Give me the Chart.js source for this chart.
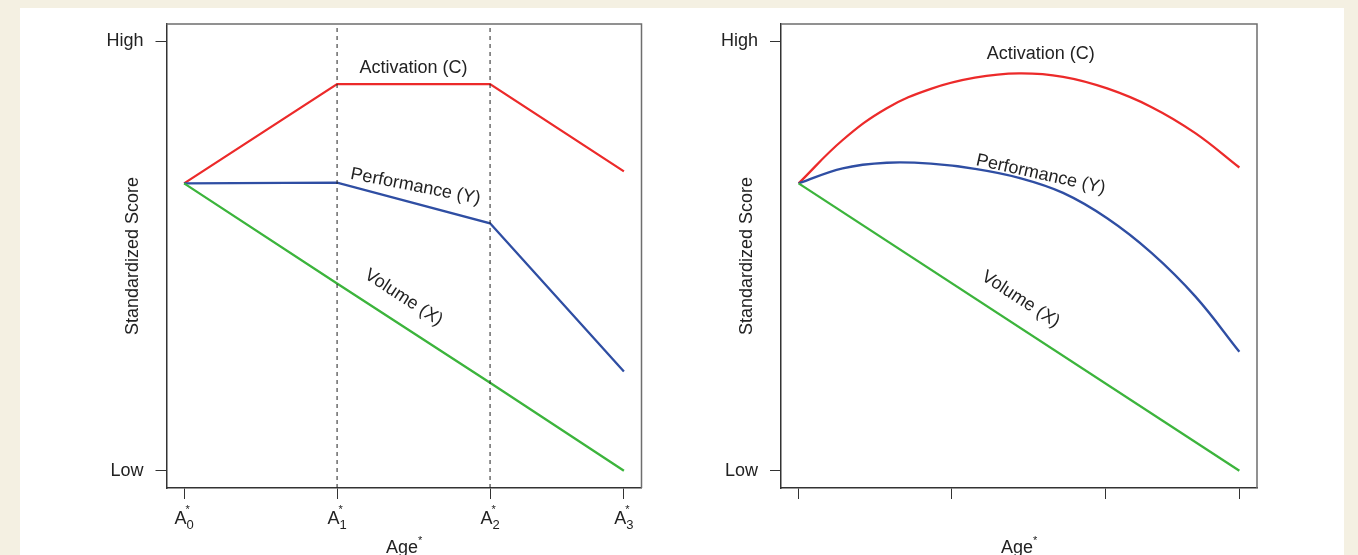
<!DOCTYPE html>
<html>
<head>
<meta charset="utf-8">
<script src="https://cdn.jsdelivr.net/npm/chart.js@4/dist/chart.umd.min.js"></script>
<style>
  body { margin: 0; background: #f4f0e2; width: 1358px; height: 555px; overflow: hidden; position: relative; }
  #panel { position: absolute; left: 20px; top: 8px; width: 1324px; height: 547px; background: #fff; }
  canvas { position: absolute; top: 1px; }
  #leftChart { left: 20px; }
  #rightChart { left: 690px; }
</style>
</head>
<body>
<div id="panel"></div>
<canvas id="leftChart" width="670" height="554"></canvas>
<canvas id="rightChart" width="654" height="554"></canvas>
<script>
// age positions (A0..A3) and the scores
const ageX = [0, 1, 2, 2.875];
const ageSub = ['0', '1', '2', '3'];
const scoreTicks = [0, 1];
const scoreLabels = ['Low', 'High'];

// left panel: piecewise lines
const activationStep = [0.669, 0.9, 0.9, 0.697];
const performanceStep = [0.669, 0.671, 0.576, 0.231];
const volumeStep = [0.669, 0.436, 0.205, 0];

// right panel: smooth curves, sampled evenly from A0 to A3
const curveX = [0, 0.2875, 0.575, 0.8625, 1.15, 1.4375, 1.725, 2.0125, 2.3, 2.5875, 2.875];
const activationCurve = [0.669, 0.770, 0.844, 0.889, 0.915, 0.925, 0.917, 0.890, 0.847, 0.786, 0.706];
const performanceCurve = [0.669, 0.704, 0.717, 0.715, 0.703, 0.682, 0.647, 0.588, 0.508, 0.406, 0.277];
const volumeCurveX = [0, 2.875];
const volumeCurve = [0.669, 0];

const RED = '#ec2a2a', BLUE = '#2f4ea3', GREEN = '#3cb43c';
const TEXT = '#222';
const FONT = '"Liberation Sans", Arial, sans-serif';

const leftLabels = [
  { text: 'Activation (C)', x: 1.50, y: 0.937, rot: 0 },
  { text: 'Performance (Y)', x: 1.513, y: 0.662, rot: 11 },
  { text: 'Volume (X)', x: 1.435, y: 0.403, rot: 33 }
];
const rightLabels = [
  { text: 'Activation (C)', x: 1.579, y: 0.970, rot: 0 },
  { text: 'Performance (Y)', x: 1.579, y: 0.690, rot: 12.5 },
  { text: 'Volume (X)', x: 1.448, y: 0.399, rot: 33 }
];

function pts(xs, ys) {
  return ys.map((v, i) => ({ x: xs[i], y: v }));
}

function lineSet(data, color, extra) {
  return Object.assign({
    data: data,
    borderColor: color,
    borderWidth: 2.3,
    pointRadius: 0,
    fill: false
  }, extra || {});
}

// draws box, annotations, x tick labels and axis titles
const decorPlugin = {
  id: 'decor',
  afterDraw(chart) {
    const ctx = chart.ctx;
    const a = chart.chartArea;
    const xs = chart.scales.x, ys = chart.scales.y;
    const o = chart.options.plugins.decor;
    ctx.save();

    // top and right frame
    ctx.strokeStyle = '#6e6e6e';
    ctx.lineWidth = 1.5;
    ctx.beginPath();
    ctx.moveTo(a.left, a.top);
    ctx.lineTo(a.right, a.top);
    ctx.lineTo(a.right, a.bottom);
    ctx.stroke();

    // curve labels
    ctx.fillStyle = TEXT;
    ctx.textAlign = 'center';
    ctx.textBaseline = 'middle';
    ctx.font = '18px ' + FONT;
    o.labels.forEach(l => {
      ctx.save();
      ctx.translate(xs.getPixelForValue(l.x), ys.getPixelForValue(l.y));
      ctx.rotate(l.rot * Math.PI / 180);
      ctx.fillText(l.text, 0, 0);
      ctx.restore();
    });

    // x tick labels A_i^*
    if (o.tickLabels) {
      ctx.textAlign = 'left';
      ctx.textBaseline = 'alphabetic';
      ageX.forEach((v, i) => {
        const px = xs.getPixelForValue(v);
        ctx.font = '18px ' + FONT;
        const wA = ctx.measureText('A').width;
        ctx.font = '13px ' + FONT;
        const wD = ctx.measureText(ageSub[i]).width;
        const start = px - (wA + wD) / 2;
        ctx.font = '18px ' + FONT;
        ctx.fillText('A', start, a.bottom + 36);
        ctx.font = '13px ' + FONT;
        ctx.fillText(ageSub[i], start + wA, a.bottom + 41);
        ctx.font = '11px ' + FONT;
        ctx.fillText('*', start + wA - 1, a.bottom + 25);
      });
    }

    // x title
    const cx = (a.left + a.right) / 2;
    ctx.font = '18px ' + FONT;
    ctx.textAlign = 'center';
    ctx.textBaseline = 'alphabetic';
    const wAge = ctx.measureText('Age').width;
    ctx.fillText('Age', cx - 2, a.bottom + 65);
    ctx.font = '11px ' + FONT;
    ctx.textAlign = 'left';
    ctx.fillText('*', cx - 2 + wAge / 2, a.bottom + 56);

    // y title
    ctx.save();
    ctx.translate(a.left - 33.5, (a.top + a.bottom) / 2);
    ctx.rotate(-Math.PI / 2);
    ctx.font = '18px ' + FONT;
    ctx.textAlign = 'center';
    ctx.textBaseline = 'middle';
    ctx.fillText('Standardized Score', 0, 0);
    ctx.restore();

    ctx.restore();
  }
};

function makeOptions(padRight, yWidth, labels, tickLabels) {
  return {
    responsive: false,
    animation: false,
    layout: { padding: { top: 23, right: padRight, bottom: 0, left: 0 } },
    plugins: {
      legend: { display: false },
      tooltip: { enabled: false },
      decor: { labels: labels, tickLabels: tickLabels }
    },
    scales: {
      x: {
        type: 'linear',
        min: -0.115,
        max: 2.99,
        afterBuildTicks: s => { s.ticks = ageX.map(v => ({ value: v })); },
        afterFit: s => { s.height = 67; },
        ticks: { display: false },
        grid: { drawOnChartArea: false, drawTicks: true, tickLength: 11, color: '#333', tickWidth: 1 },
        border: { display: true, color: '#333', width: 1.5 }
      },
      y: {
        type: 'linear',
        min: -0.04,
        max: 1.04,
        afterBuildTicks: s => { s.ticks = scoreTicks.map(v => ({ value: v })); },
        afterFit: s => { s.width = yWidth; },
        ticks: {
          padding: 12,
          color: TEXT,
          font: { size: 18, family: FONT },
          callback: v => scoreLabels[scoreTicks.indexOf(v)]
        },
        grid: { drawOnChartArea: false, drawTicks: true, tickLength: 11, color: '#333', tickWidth: 1 },
        border: { display: true, color: '#333', width: 1.5 }
      }
    }
  };
}

const dashed = { borderColor: '#222', borderWidth: 1, borderDash: [4, 4] };
const smooth = { tension: 0.4 };

new Chart(document.getElementById('leftChart'), {
  type: 'line',
  data: {
    datasets: [
      lineSet(pts([ageX[1], ageX[1]], [-0.04, 1.04]), '#222', dashed),
      lineSet(pts([ageX[2], ageX[2]], [-0.04, 1.04]), '#222', dashed),
      lineSet(pts(ageX, volumeStep), GREEN),
      lineSet(pts(ageX, performanceStep), BLUE),
      lineSet(pts(ageX, activationStep), RED)
    ]
  },
  options: makeOptions(48.5, 146.5, leftLabels, true),
  plugins: [decorPlugin]
});

new Chart(document.getElementById('rightChart'), {
  type: 'line',
  data: {
    datasets: [
      lineSet(pts(volumeCurveX, volumeCurve), GREEN),
      lineSet(pts(curveX, performanceCurve), BLUE, smooth),
      lineSet(pts(curveX, activationCurve), RED, smooth)
    ]
  },
  options: makeOptions(87, 91, rightLabels, false),
  plugins: [decorPlugin]
});
</script>
</body>
</html>
